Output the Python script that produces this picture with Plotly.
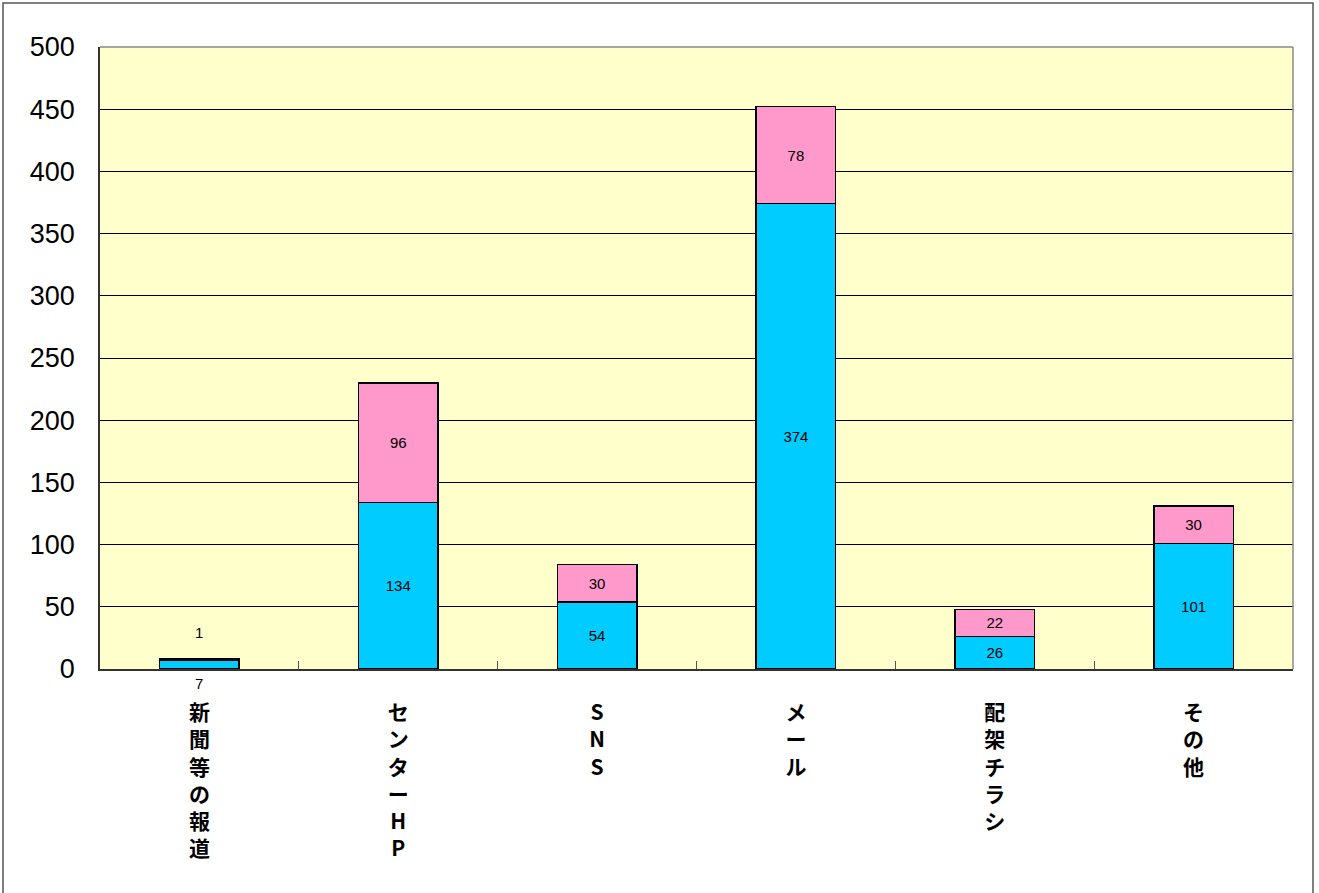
import plotly.graph_objects as go

categories = ["新聞等の報道", "センターHP", "SNS", "メール", "配架チラシ", "その他"]
blue_vals = [7, 134, 54, 374, 26, 101]
pink_vals = [1, 96, 30, 78, 22, 30]
y_ticks = [0, 50, 100, 150, 200, 250, 300, 350, 400, 450, 500]

def vlabel(s):
    return "<br>".join(list(s))

tick_text = [vlabel(c) for c in categories]

SMALL = 5  # segments too thin for inside labels
small_cat = [(b < SMALL or p < SMALL) for b, p in zip(blue_vals, pink_vals)]

blue_text = ["" if s else str(v) for v, s in zip(blue_vals, small_cat)]
pink_text = ["" if s else str(v) for v, s in zip(pink_vals, small_cat)]

LABEL_FONT = dict(size=15, color="black", family="Liberation Sans, Arial")

fig = go.Figure()
fig.add_trace(go.Bar(
    x=categories, y=blue_vals, name="blue",
    marker=dict(color="#00CCFF", line=dict(color="black", width=1.5)),
    text=blue_text, textposition="inside", insidetextanchor="middle",
    textfont=LABEL_FONT, constraintext="none", width=0.4,
))
fig.add_trace(go.Bar(
    x=categories, y=pink_vals, name="pink",
    marker=dict(color="#FF99CC", line=dict(color="black", width=1.5)),
    text=pink_text, textposition="inside", insidetextanchor="middle",
    textfont=LABEL_FONT, constraintext="none", width=0.4,
))

annotations = []
for c, b, p, s in zip(categories, blue_vals, pink_vals, small_cat):
    if s:
        annotations.append(dict(x=c, y=b + p, text=str(p), showarrow=False,
                                yshift=27, font=LABEL_FONT))
        annotations.append(dict(x=c, y=0, text=str(b), showarrow=False,
                                yshift=-14, font=LABEL_FONT))

L, R, T, B = 100, 26, 47, 224
W, H = 1319, 893
pw, ph = W - L - R, H - T - B

shapes = [dict(type="rect", xref="paper", yref="paper",
               x0=(3 - L) / pw, x1=(1313 - L) / pw,
               y0=(H - B - (H + 10)) / ph, y1=(H - B - 3) / ph,
               line=dict(color="#555555", width=1.5), fillcolor="rgba(0,0,0,0)", layer="below")]

fig.update_layout(
    barmode="stack",
    width=W, height=H,
    margin=dict(l=L, r=R, t=T, b=B, pad=0),
    paper_bgcolor="white",
    plot_bgcolor="#FFFFCC",
    showlegend=False,
    annotations=annotations,
    shapes=shapes,
    font=dict(family="Liberation Sans, Arial", color="black"),
)
fig.update_yaxes(
    range=[0, 500], tickvals=y_ticks, ticktext=[str(v) for v in y_ticks],
    showgrid=True, gridcolor="black", gridwidth=1,
    showline=True, linecolor="#333333", linewidth=1.5,
    mirror=False, ticks="", zeroline=False,
    tickfont=dict(size=27, family="Liberation Sans, Arial", color="black"),
    ticklabelstandoff=18,
)
fig.update_xaxes(
    tickvals=categories, ticktext=tick_text,
    showline=True, linecolor="#333333", linewidth=1.5,
    ticks="inside", tickson="boundaries", ticklen=8, tickcolor="#555555",
    tickfont=dict(size=21, family="Noto Sans CJK JP", color="black", weight="bold"),
    ticklabelstandoff=24,
)
fig.add_shape(type="line", xref="paper", yref="paper", x0=1, x1=1, y0=0, y1=1,
              line=dict(color="#888888", width=1.5))
fig.add_shape(type="line", xref="paper", yref="paper", x0=0, x1=1, y0=1, y1=1,
              line=dict(color="#888888", width=1.5))

fig.write_html("out.html", config={"displayModeBar": False},
               post_script="document.body.style.margin='0';document.body.style.overflow='hidden';")
